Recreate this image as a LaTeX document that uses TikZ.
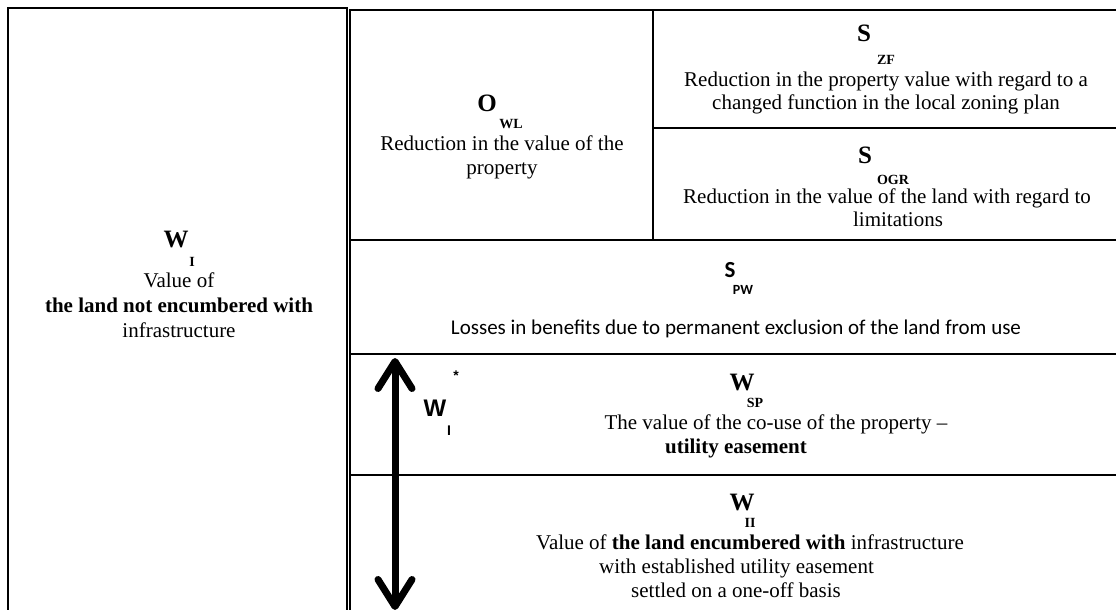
\documentclass[tikz,border=0pt]{standalone}
\usepackage{fontspec}
\setmainfont{Liberation Serif}
\newfontfamily\calfont{Carlito}
\newfontfamily\arfont{Liberation Sans}
\usetikzlibrary{arrows.meta}
\begin{document}
\begin{tikzpicture}[x=1pt,y=-1pt,
  frame/.style={draw=black,line width=1.8pt},
  rule/.style={draw=black,line width=1.8pt},
  txt/.style={anchor=base,inner sep=0pt,font=\fontsize{21}{24}\selectfont},
  btxt/.style={anchor=base,inner sep=0pt,font=\fontsize{21}{24}\selectfont\bfseries},
  bigsym/.style={anchor=base,inner sep=0pt,font=\fontsize{25}{28}\selectfont\bfseries},
  subsym/.style={anchor=base,inner sep=0pt,font=\fontsize{14}{16}\selectfont\bfseries},
  calbig/.style={anchor=base,inner sep=0pt,font=\calfont\fontsize{23}{26}\selectfont\bfseries},
  calsub/.style={anchor=base,inner sep=0pt,font=\calfont\fontsize{14}{16}\selectfont\bfseries},
  caltxt/.style={anchor=base,inner sep=0pt,font=\calfont\fontsize{21}{24}\selectfont},
  arbig/.style={anchor=base,inner sep=0pt,font=\arfont\fontsize{24}{27}\selectfont\bfseries},
  arsub/.style={anchor=base,inner sep=0pt,font=\arfont\fontsize{14}{16}\selectfont\bfseries},
  dblarrow/.style={line width=7pt,line cap=round,
    {Straight Barb[length=27pt,width=34pt,round]}-{Straight Barb[length=27pt,width=34pt,round]}}
]
\useasboundingbox (0,0) rectangle (1116,610);
\clip (0,0) rectangle (1116,610);
\fill[white] (0,0) rectangle (1116,610);

% frames
\draw[frame] (8,8) rectangle (347,640);
\draw[frame] (350,10) rectangle (1140,640);
\draw[rule] (653,10) -- (653,240);
\draw[rule] (653,128) -- (1140,128);
\draw[rule] (350,240) -- (1140,240);
\draw[rule] (350,354) -- (1140,354);
\draw[rule] (350,475) -- (1140,475);

% left cell W_I
\node[bigsym] (wI) at (176,247) {W};
\node[subsym] (wIsub) at (192,266) {I};
\node[txt] (wIa) at (179,287) {Value of};
\node[btxt] (wIb) at (179,312) {the land not encumbered with};
\node[txt] (wIc) at (179,337) {infrastructure};

% O_WL
\node[bigsym] (o) at (487,111) {O};
\node[subsym] (osub) at (511,128) {WL};
\node[txt] (oa) at (502,150) {Reduction in the value of the};
\node[txt] (ob) at (502,174) {property};

% S_ZF
\node[bigsym] (szf) at (864,42) {S};
\node[subsym] (szfsub) at (886,64) {ZF};
\node[txt] (szfa) at (886,86) {Reduction in the property value with regard to a};
\node[txt] (szfb) at (886,109) {changed function in the local zoning plan};

% S_OGR
\node[bigsym] (sogr) at (865,163) {S};
\node[subsym] (sogrsub) at (893,184) {OGR};
\node[txt] (sogra) at (887,203) {Reduction in the value of the land with regard to};
\node[txt] (sogrb) at (898,226) {limitations};

% S_PW
\node[calbig] (spw) at (730,277) {S};
\node[calsub] (spwsub) at (743,294.5) {PW};
\node[caltxt] (spwa) at (736,334) {Losses in benefits due to permanent exclusion of the land from use};

% W_I*
\coordinate (atop) at (395,358);
\coordinate (abot) at (395,610);
\draw[dblarrow] (atop) -- (abot);
\node[arbig] (wis) at (435,416.5) {W};
\node[arsub,anchor=center] (wisstar) at (456,376) {*};
\node[arsub] (wissub) at (449,435) {I};

% W_SP
\node[bigsym] (wsp) at (742,390.5) {W};
\node[subsym] (wspsub) at (755,407) {SP};
\node[txt] (wspa) at (776,429) {The value of the co-use of the property \textendash};
\node[btxt] (wspb) at (736,453) {utility easement};

% W_II
\node[bigsym] (wii) at (742,510.5) {W};
\node[subsym] (wiisub) at (750,527) {II};
\node[txt] (wiia) at (750,549) {Value of \textbf{the land encumbered with} infrastructure};
\node[txt] (wiib) at (736.5,573) {with established utility easement};
\node[txt] (wiic) at (736,597) {settled on a one-off basis};
\end{tikzpicture}
\end{document}
